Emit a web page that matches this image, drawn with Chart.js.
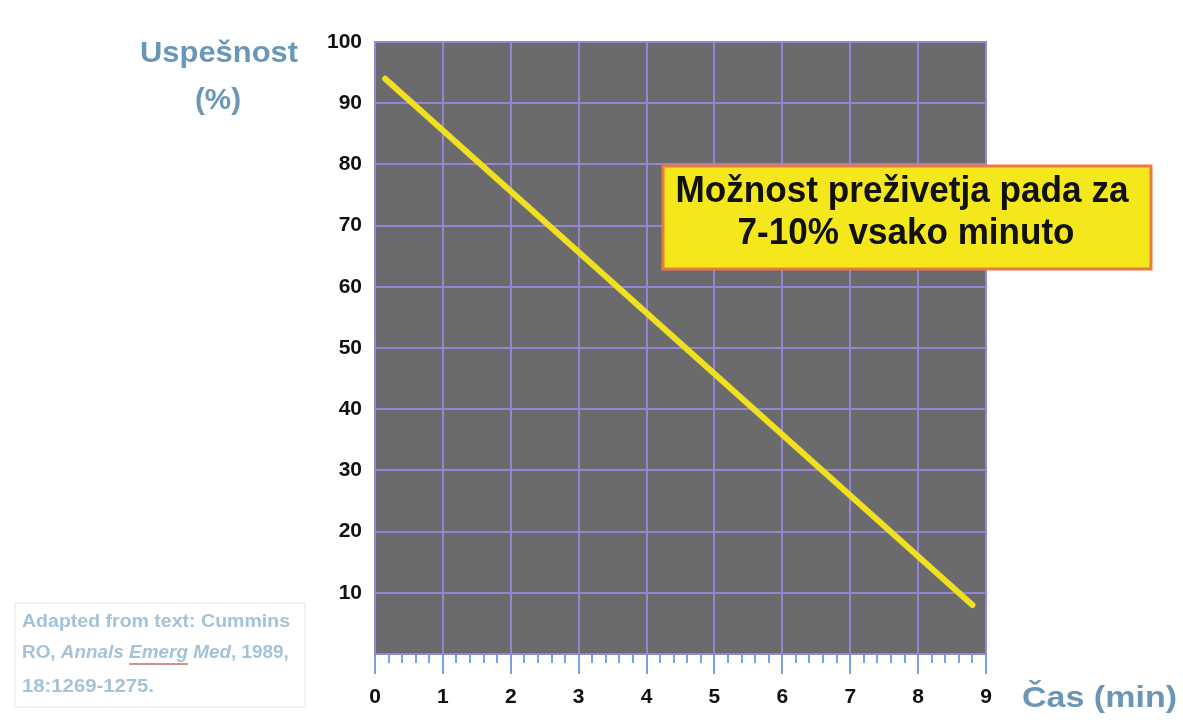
<!DOCTYPE html>
<html>
<head>
<meta charset="utf-8">
<script src="https://cdn.jsdelivr.net/npm/chart.js@4.4.0/dist/chart.umd.min.js"></script>
<style>
  html, body { margin: 0; padding: 0; background: #fff; }
  #wrap { width: 1183px; height: 720px; }
</style>
</head>
<body>
<div id="wrap"><canvas id="chart" width="1183" height="720"></canvas></div>
<script>
// data
const minutes = [0.15, 8.8];
const survival = [94, 8];
const xTicks = [0, 1, 2, 3, 4, 5, 6, 7, 8, 9];
const yTicks = [10, 20, 30, 40, 50, 60, 70, 80, 90, 100];

const points = minutes.map((m, i) => ({ x: m, y: survival[i] }));

const PLOT_BG = '#6b6b6d';
const GRID = '#9684d4';
const AXIS_BLUE = '#79a3e0';
const TITLE_BLUE = '#6a97b7';
const FONT = '"Liberation Sans", Arial, sans-serif';

// draw text stretched horizontally to a given width
function fitText(ctx, text, x, y, width) {
    const w = ctx.measureText(text).width;
    const k = width / w;
    ctx.save();
    ctx.translate(x, y);
    ctx.scale(k, 1);
    ctx.fillText(text, 0, 0);
    ctx.restore();
}

const decor = {
    id: 'decor',
    beforeDraw(chart) {
        const ctx = chart.ctx, a = chart.chartArea;
        ctx.save();
        ctx.fillStyle = PLOT_BG;
        ctx.fillRect(a.left, a.top, a.right - a.left, a.bottom - a.top);
        ctx.restore();
    },
    afterDraw(chart) {
        const ctx = chart.ctx, a = chart.chartArea;
        ctx.save();
        // plot frame
        ctx.strokeStyle = GRID;
        ctx.lineWidth = 2;
        ctx.strokeRect(a.left, a.top, a.right - a.left, a.bottom - a.top);

        // axis titles
        ctx.fillStyle = TITLE_BLUE;
        ctx.font = 'bold 29px ' + FONT;
        ctx.textAlign = 'center';
        ctx.textBaseline = 'middle';
        fitText(ctx, 'Uspešnost', 219, 54, 158);
        fitText(ctx, '(%)', 218, 101, 46);
        ctx.font = 'bold 30px ' + FONT;
        ctx.textAlign = 'left';
        fitText(ctx, 'Čas (min)', 1022, 699, 155);

        // annotation box
        ctx.fillStyle = '#f4e81c';
        ctx.fillRect(663, 166, 488, 103);
        ctx.strokeStyle = '#ec7a3c';
        ctx.lineWidth = 3;
        ctx.strokeRect(663, 166, 488, 103);
        ctx.fillStyle = '#111';
        ctx.font = 'bold 36px ' + FONT;
        ctx.textAlign = 'center';
        fitText(ctx, 'Možnost preživetja pada za', 902, 192, 453);
        fitText(ctx, '7-10% vsako minuto', 906, 234, 337);

        // citation box
        ctx.strokeStyle = '#dce8f0';
        ctx.lineWidth = 1;
        ctx.strokeRect(15, 603, 290, 104);
        ctx.fillStyle = '#a4c2d8';
        ctx.textAlign = 'left';
        ctx.font = 'bold 18px ' + FONT;
        fitText(ctx, 'Adapted from text: Cummins', 22, 622, 268);
        let x = 22;
        const k = 1.05;
        const seg = (t, font) => {
            ctx.font = font;
            const w = ctx.measureText(t).width * k;
            fitText(ctx, t, x, 653, w);
            const x0 = x;
            x += w;
            return [x0, w];
        };
        seg('RO, ', 'bold 18px ' + FONT);
        seg('Annals ', 'italic bold 18px ' + FONT);
        const [ex, ew] = seg('Emerg', 'italic bold 18px ' + FONT);
        seg(' Med', 'italic bold 18px ' + FONT);
        seg(', 1989,', 'bold 18px ' + FONT);
        ctx.strokeStyle = '#c86a6a';
        ctx.lineWidth = 1.5;
        ctx.beginPath();
        ctx.moveTo(ex, 664);
        ctx.lineTo(ex + ew, 664);
        ctx.stroke();
        ctx.font = 'bold 18px ' + FONT;
        fitText(ctx, '18:1269-1275.', 22, 687, 132);
        ctx.restore();
    }
};

new Chart(document.getElementById('chart'), {
    type: 'line',
    data: {
        datasets: [{
            data: points,
            borderColor: '#f0e020',
            borderWidth: 6,
            borderCapStyle: 'round',
            pointRadius: 0,
            tension: 0
        }]
    },
    options: {
        responsive: false,
        animation: false,
        layout: { padding: { left: 0, top: 42, right: 197, bottom: 0 } },
        plugins: { legend: { display: false }, tooltip: { enabled: false } },
        scales: {
            x: {
                type: 'linear',
                min: 0, max: 9,
                weight: 1,
                afterBuildTicks: s => { s.ticks = xTicks.map(v => ({ value: v })); },
                afterFit: s => { s.height = 66; },
                grid: {
                    color: ctx => (ctx.tick && ctx.tick.value > 0 && ctx.tick.value < 9) ? GRID : 'transparent',
                    lineWidth: 2,
                    tickColor: AXIS_BLUE,
                    tickLength: 20,
                    drawTicks: true
                },
                border: { display: true, color: AXIS_BLUE, width: 2 },
                ticks: {
                    color: '#111',
                    padding: 11,
                    maxRotation: 0,
                    font: { family: FONT, size: 21, weight: 'bold' }
                }
            },
            x2: {
                type: 'linear',
                position: 'bottom',
                min: 0, max: 9,
                weight: 0,
                afterBuildTicks: s => {
                    const t = [];
                    for (let i = 0; i <= 45; i++) t.push({ value: i / 5 });
                    s.ticks = t;
                },
                afterFit: s => { s.height = 0; },
                grid: {
                    drawOnChartArea: false,
                    tickColor: AXIS_BLUE,
                    tickLength: 9,
                    lineWidth: 2
                },
                border: { display: false },
                ticks: { callback: () => '' }
            },
            y: {
                min: 0, max: 100,
                afterBuildTicks: s => { s.ticks = yTicks.map(v => ({ value: v })); },
                afterFit: s => { s.width = 375; },
                grid: {
                    color: ctx => (ctx.tick && ctx.tick.value < 100) ? GRID : 'transparent',
                    lineWidth: 2,
                    drawTicks: false
                },
                border: { display: false },
                ticks: {
                    color: '#111',
                    padding: 13,
                    font: { family: FONT, size: 21, weight: 'bold' }
                }
            }
        }
    },
    plugins: [decor]
});
</script>
</body>
</html>
